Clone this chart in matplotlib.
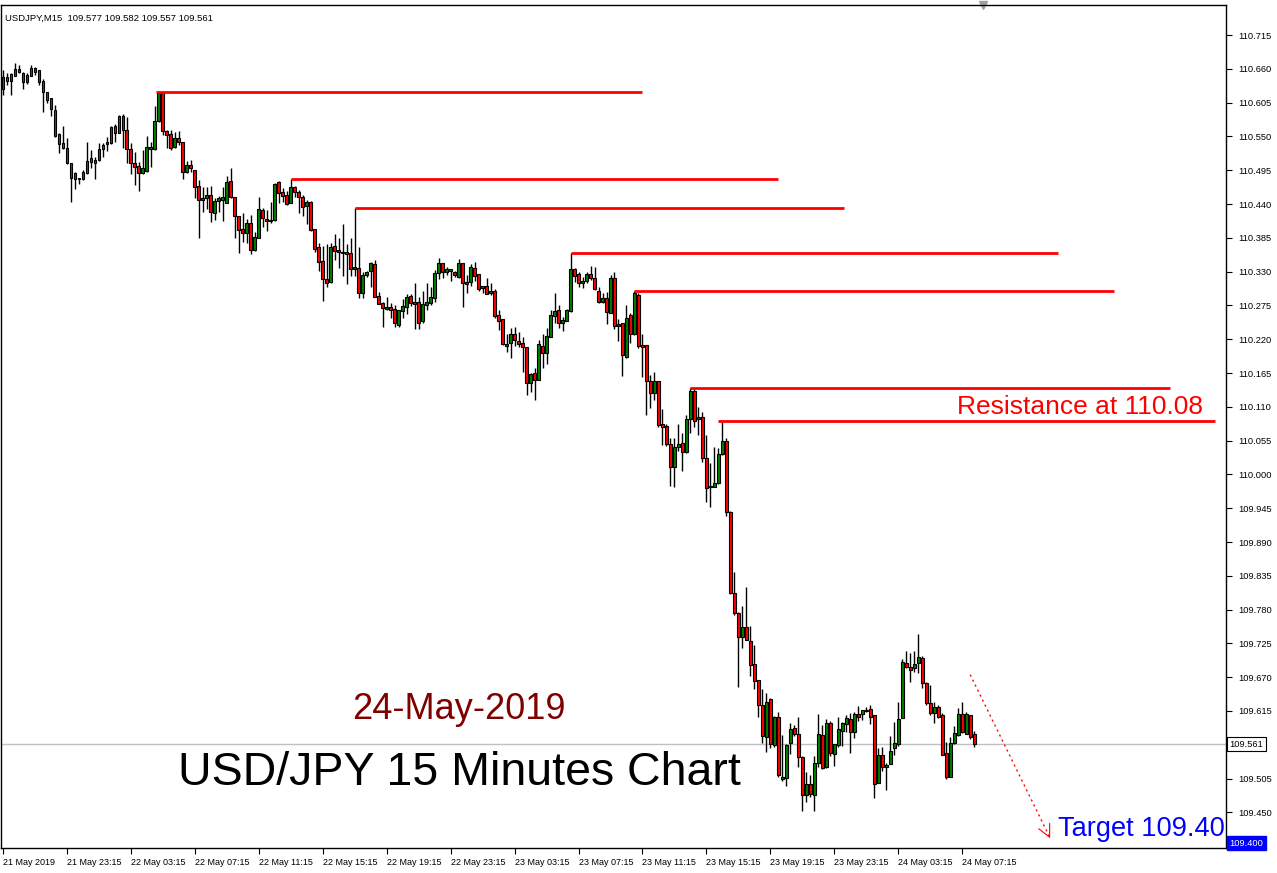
import numpy as np
import matplotlib.pyplot as plt
from matplotlib.transforms import blended_transform_factory

plt.rcParams['font.family'] = ['Liberation Sans', 'DejaVu Sans']

# USDJPY M15, 21 May 19:15 .. 24 May 07:45, one value per candle
opens = [
    110.627, 110.647, 110.640, 110.648, 110.660, 110.653, 110.639, 110.648, 110.661, 110.658,
    110.640, 110.622, 110.613, 110.593, 110.554, 110.539, 110.531, 110.507, 110.481, 110.482,
    110.481, 110.490, 110.515, 110.507, 110.512, 110.530, 110.538, 110.539, 110.567, 110.556,
    110.583, 110.560, 110.530, 110.507, 110.502, 110.490, 110.494, 110.530, 110.530, 110.575,
    110.621, 110.559, 110.554, 110.533, 110.547, 110.541, 110.492, 110.503, 110.495, 110.469,
    110.450, 110.450, 110.455, 110.425, 110.445, 110.447, 110.442, 110.477, 110.451, 110.420,
    110.399, 110.393, 110.409, 110.365, 110.385, 110.430, 110.416, 110.412, 110.414, 110.476,
    110.460, 110.455, 110.442, 110.468, 110.460, 110.451, 110.437, 110.443, 110.399, 110.370,
    110.347, 110.318, 110.313, 110.372, 110.365, 110.362, 110.362, 110.360, 110.334, 110.336,
    110.295, 110.324, 110.331, 110.342, 110.290, 110.279, 110.269, 110.272, 110.269, 110.243,
    110.266, 110.272, 110.290, 110.277, 110.281, 110.250, 110.276, 110.279, 110.287, 110.328,
    110.344, 110.329, 110.331, 110.329, 110.321, 110.344, 110.310, 110.313, 110.336, 110.326,
    110.303, 110.307, 110.295, 110.298, 110.259, 110.253, 110.209, 110.214, 110.228, 110.217,
    110.214, 110.207, 110.149, 110.165, 110.154, 110.209, 110.198, 110.224, 110.258, 110.268,
    110.246, 110.250, 110.266, 110.334, 110.326, 110.311, 110.315, 110.326, 110.320, 110.298,
    110.281, 110.287, 110.263, 110.320, 110.241, 110.246, 110.191, 110.259, 110.228, 110.292,
    110.211, 110.211, 110.152, 110.133, 110.152, 110.082, 110.079, 110.049, 110.012, 110.045,
    110.051, 110.036, 110.090, 110.136, 110.090, 110.093, 110.027, 109.980, 109.980, 109.986,
    110.033, 110.054, 109.939, 109.807, 109.775, 109.735, 109.752, 109.729, 109.691, 109.665,
    109.625, 109.573, 109.635, 109.560, 109.605, 109.505, 109.506, 109.563, 109.587, 109.578,
    109.540, 109.478, 109.496, 109.478, 109.530, 109.576, 109.524, 109.596, 109.545, 109.560,
    109.583, 109.594, 109.602, 109.581, 109.610, 109.610, 109.617, 109.618, 109.609, 109.498,
    109.543, 109.524, 109.529, 109.555, 109.561, 109.604, 109.693, 109.687, 109.685, 109.693,
    109.701, 109.661, 109.628, 109.612, 109.622, 109.609, 109.547, 109.508, 109.563, 109.576,
    109.610, 109.578, 109.609, 109.577,
]
highs = [
    110.658, 110.653, 110.653, 110.669, 110.666, 110.655, 110.653, 110.666, 110.663, 110.658,
    110.643, 110.622, 110.613, 110.601, 110.556, 110.567, 110.547, 110.507, 110.492, 110.483,
    110.495, 110.541, 110.528, 110.517, 110.539, 110.539, 110.549, 110.567, 110.570, 110.585,
    110.587, 110.582, 110.539, 110.525, 110.508, 110.528, 110.551, 110.541, 110.600, 110.622,
    110.622, 110.560, 110.560, 110.557, 110.559, 110.541, 110.510, 110.512, 110.495, 110.479,
    110.468, 110.468, 110.469, 110.450, 110.453, 110.468, 110.486, 110.499, 110.451, 110.420,
    110.425, 110.416, 110.422, 110.394, 110.451, 110.434, 110.430, 110.443, 110.474, 110.477,
    110.466, 110.461, 110.481, 110.469, 110.463, 110.455, 110.447, 110.445, 110.399, 110.377,
    110.372, 110.375, 110.377, 110.391, 110.385, 110.407, 110.375, 110.385, 110.433, 110.370,
    110.329, 110.331, 110.346, 110.349, 110.297, 110.281, 110.289, 110.279, 110.276, 110.268,
    110.285, 110.294, 110.294, 110.311, 110.289, 110.298, 110.311, 110.305, 110.333, 110.352,
    110.344, 110.338, 110.334, 110.331, 110.351, 110.344, 110.324, 110.342, 110.346, 110.326,
    110.307, 110.320, 110.311, 110.302, 110.268, 110.253, 110.228, 110.238, 110.240, 110.232,
    110.224, 110.207, 110.165, 110.173, 110.219, 110.228, 110.238, 110.268, 110.295, 110.276,
    110.256, 110.269, 110.361, 110.336, 110.329, 110.321, 110.329, 110.339, 110.338, 110.305,
    110.295, 110.297, 110.324, 110.329, 110.253, 110.246, 110.276, 110.263, 110.299, 110.295,
    110.228, 110.211, 110.162, 110.167, 110.152, 110.106, 110.082, 110.059, 110.059, 110.082,
    110.067, 110.097, 110.141, 110.141, 110.110, 110.102, 110.064, 110.019, 110.045, 110.043,
    110.086, 110.059, 109.940, 109.841, 109.776, 109.786, 109.817, 109.753, 109.722, 109.666,
    109.651, 109.644, 109.636, 109.607, 109.613, 109.576, 109.561, 109.596, 109.592, 109.605,
    109.542, 109.516, 109.511, 109.542, 109.610, 109.592, 109.602, 109.599, 109.561, 109.605,
    109.597, 109.609, 109.612, 109.613, 109.623, 109.617, 109.622, 109.625, 109.609, 109.555,
    109.556, 109.530, 109.574, 109.597, 109.630, 109.700, 109.713, 109.709, 109.713, 109.740,
    109.705, 109.662, 109.657, 109.630, 109.625, 109.612, 109.565, 109.573, 109.591, 109.620,
    109.630, 109.613, 109.609, 109.582,
]
lows = [
    110.618, 110.634, 110.618, 110.648, 110.653, 110.627, 110.635, 110.648, 110.650, 110.634,
    110.590, 110.604, 110.583, 110.549, 110.523, 110.530, 110.506, 110.443, 110.464, 110.473,
    110.479, 110.489, 110.499, 110.481, 110.510, 110.517, 110.526, 110.538, 110.541, 110.555,
    110.531, 110.507, 110.489, 110.471, 110.461, 110.489, 110.493, 110.500, 110.528, 110.574,
    110.553, 110.531, 110.528, 110.532, 110.536, 110.481, 110.491, 110.492, 110.450, 110.385,
    110.427, 110.432, 110.411, 110.414, 110.427, 110.412, 110.441, 110.450, 110.385, 110.360,
    110.378, 110.377, 110.359, 110.364, 110.384, 110.403, 110.396, 110.409, 110.413, 110.442,
    110.443, 110.439, 110.441, 110.451, 110.425, 110.420, 110.407, 110.396, 110.362, 110.331,
    110.282, 110.305, 110.312, 110.349, 110.336, 110.323, 110.310, 110.323, 110.323, 110.287,
    110.287, 110.321, 110.305, 110.288, 110.277, 110.240, 110.268, 110.255, 110.240, 110.240,
    110.255, 110.261, 110.274, 110.237, 110.237, 110.246, 110.268, 110.276, 110.281, 110.318,
    110.320, 110.324, 110.315, 110.321, 110.320, 110.272, 110.295, 110.307, 110.315, 110.298,
    110.295, 110.293, 110.292, 110.255, 110.235, 110.211, 110.199, 110.189, 110.209, 110.207,
    110.167, 110.129, 110.134, 110.121, 110.153, 110.173, 110.180, 110.223, 110.246, 110.238,
    110.233, 110.249, 110.265, 110.313, 110.305, 110.303, 110.311, 110.316, 110.300, 110.279,
    110.279, 110.245, 110.262, 110.237, 110.217, 110.160, 110.190, 110.214, 110.227, 110.206,
    110.159, 110.097, 110.108, 110.121, 110.077, 110.048, 110.046, 109.981, 109.980, 110.038,
    110.005, 110.035, 110.067, 110.077, 110.064, 110.020, 109.955, 109.947, 109.979, 109.985,
    110.031, 109.932, 109.806, 109.771, 109.654, 109.717, 109.730, 109.672, 109.651, 109.605,
    109.563, 109.548, 109.555, 109.557, 109.508, 109.501, 109.493, 109.545, 109.574, 109.524,
    109.452, 109.467, 109.475, 109.452, 109.524, 109.520, 109.523, 109.542, 109.526, 109.557,
    109.558, 109.581, 109.547, 109.571, 109.599, 109.600, 109.613, 109.594, 109.473, 109.497,
    109.517, 109.487, 109.528, 109.543, 109.558, 109.603, 109.685, 109.662, 109.679, 109.677,
    109.653, 109.625, 109.609, 109.596, 109.604, 109.543, 109.504, 109.507, 109.562, 109.575,
    109.579, 109.577, 109.569, 109.557,
]
closes = [
    110.647, 110.640, 110.652, 110.660, 110.655, 110.639, 110.650, 110.661, 110.655, 110.639,
    110.622, 110.609, 110.595, 110.551, 110.538, 110.531, 110.507, 110.482, 110.490, 110.481,
    110.492, 110.510, 110.508, 110.512, 110.530, 110.536, 110.541, 110.565, 110.556, 110.583,
    110.560, 110.530, 110.507, 110.500, 110.490, 110.499, 110.533, 110.533, 110.575, 110.621,
    110.559, 110.552, 110.531, 110.547, 110.541, 110.492, 110.503, 110.499, 110.468, 110.447,
    110.446, 110.455, 110.427, 110.445, 110.450, 110.451, 110.476, 110.451, 110.420, 110.398,
    110.393, 110.409, 110.365, 110.386, 110.432, 110.417, 110.412, 110.414, 110.473, 110.458,
    110.453, 110.440, 110.468, 110.460, 110.451, 110.435, 110.443, 110.398, 110.367, 110.346,
    110.318, 110.311, 110.370, 110.364, 110.362, 110.360, 110.359, 110.334, 110.338, 110.295,
    110.324, 110.329, 110.344, 110.289, 110.277, 110.271, 110.272, 110.268, 110.246, 110.268,
    110.274, 110.289, 110.279, 110.281, 110.246, 110.277, 110.281, 110.289, 110.328, 110.344,
    110.329, 110.334, 110.334, 110.324, 110.344, 110.311, 110.313, 110.338, 110.323, 110.302,
    110.307, 110.294, 110.298, 110.258, 110.250, 110.212, 110.212, 110.228, 110.219, 110.212,
    110.207, 110.149, 110.163, 110.154, 110.212, 110.198, 110.225, 110.259, 110.266, 110.246,
    110.251, 110.268, 110.334, 110.323, 110.311, 110.315, 110.326, 110.320, 110.302, 110.281,
    110.287, 110.264, 110.320, 110.241, 110.245, 110.194, 110.255, 110.228, 110.295, 110.209,
    110.207, 110.152, 110.133, 110.152, 110.080, 110.077, 110.049, 110.012, 110.045, 110.049,
    110.036, 110.090, 110.136, 110.087, 110.093, 110.027, 109.978, 109.981, 109.986, 110.033,
    110.054, 109.939, 109.807, 109.775, 109.735, 109.752, 109.731, 109.690, 109.664, 109.625,
    109.574, 109.630, 109.561, 109.605, 109.510, 109.508, 109.560, 109.586, 109.578, 109.540,
    109.478, 109.496, 109.480, 109.530, 109.578, 109.522, 109.596, 109.547, 109.561, 109.586,
    109.596, 109.604, 109.581, 109.610, 109.605, 109.616, 109.615, 109.605, 109.496, 109.543,
    109.524, 109.527, 109.550, 109.563, 109.602, 109.695, 109.687, 109.682, 109.692, 109.703,
    109.661, 109.628, 109.612, 109.622, 109.605, 109.544, 109.508, 109.563, 109.579, 109.610,
    109.580, 109.610, 109.573, 109.561,
]

# resistance lines: price, first and last candle index
res_levels = [110.622, 110.480, 110.434, 110.360, 110.298, 110.141, 110.087]
res_start = [38.3, 72, 88, 142, 158, 172, 179]
res_end = [160, 194, 210.3, 264, 278, 292, 303.3]

xtick_pos = [0, 16, 32, 48, 64, 80, 96, 112, 128, 144, 160, 176, 192, 208, 224, 240]
xtick_labels = ["21 May 2019", "21 May 23:15", "22 May 03:15", "22 May 07:15",
                "22 May 11:15", "22 May 15:15", "22 May 19:15", "22 May 23:15",
                "23 May 03:15", "23 May 07:15", "23 May 11:15", "23 May 15:15",
                "23 May 19:15", "23 May 23:15", "24 May 03:15", "24 May 07:15"]
ytick_pos = [110.715, 110.660, 110.605, 110.550, 110.495, 110.440, 110.385, 110.330,
             110.275, 110.220, 110.165, 110.110, 110.055, 110.000, 109.945, 109.890,
             109.835, 109.780, 109.725, 109.670, 109.615, 109.505, 109.450]

bid = 109.561
arrow_from = (242, 109.674)
arrow_to = (262, 109.408)

o = np.array(opens)
h = np.array(highs)
l = np.array(lows)
c = np.array(closes)
idx = np.arange(len(o))

fig = plt.figure(figsize=(12.77, 8.73), dpi=100)
ax = fig.add_axes([1 / 1277, 25 / 873, 1225 / 1277, 843 / 873])

# wicks then bodies
ax.vlines(idx, l, h, color="black", lw=1, zorder=2)
up = c >= o
body_bot = np.minimum(o, c)
body_h = np.maximum(np.abs(c - o), 0.0006)
ax.bar(idx[up], body_h[up], bottom=body_bot[up], width=0.7, color="#008000",
       edgecolor="black", lw=0.8, zorder=3)
ax.bar(idx[~up], body_h[~up], bottom=body_bot[~up], width=0.7, color="#ff0000",
       edgecolor="black", lw=0.8, zorder=3)

# bid line
ax.axhline(bid, color="#c0c0c0", lw=1, zorder=1)

for lev, x0, x1 in zip(res_levels, res_start, res_end):
    ax.plot([x0, x1], [lev, lev], color="#ff0000", lw=2, solid_capstyle="butt", zorder=4)

# dotted arrow to target
ax.plot([arrow_from[0], arrow_to[0]], [arrow_from[1], arrow_to[1]],
        color="#ff0000", lw=1, ls=(0, (1.5, 2.5)), zorder=4)
ax.annotate("", xy=arrow_to,
            xytext=(arrow_to[0] - 0.5, arrow_to[1] + 0.0066),
            arrowprops=dict(arrowstyle="->", color="#ff0000", lw=0.8, mutation_scale=22))

ax.text(114, 109.617, "24-May-2019", color="#800000", fontsize=26, ha="center", va="center")
ax.text(114.3, 109.514, "USD/JPY 15 Minutes Chart", color="black", fontsize=33.5,
        ha="center", va="center")
ax.text(300.3, 110.110, "Resistance at 110.08", color="#ff0000", fontsize=19,
        ha="right", va="center")
ax.text(264, 109.423, "Target 109.40", color="#0000ff", fontsize=19.6, ha="left", va="center")

ax.text(0.003, 0.99, "USDJPY,M15  109.577 109.582 109.557 109.561", transform=ax.transAxes,
        fontsize=6.8, ha="left", va="top")

ax.set_xlim(-0.5, 306)
ax.set_ylim(109.392, 110.764)

ax.set_xticks(xtick_pos)
ax.set_xticklabels(xtick_labels, ha="left", fontsize=6.5)
ax.yaxis.tick_right()
ax.set_yticks(ytick_pos)
ax.set_yticklabels(["%.3f" % v for v in ytick_pos], fontsize=6.7)
ax.tick_params(axis="both", length=4, width=0.8, direction="out", pad=3)
ax.tick_params(axis="y", pad=5)
for sp in ax.spines.values():
    sp.set_linewidth(1)

# price labels on the right scale
tr = blended_transform_factory(ax.transAxes, ax.transData)
ax.text(1.003, bid, "%.3f" % bid, transform=tr, fontsize=6.7, ha="left", va="center",
        color="black", bbox=dict(boxstyle="square,pad=0.25", fc="white", ec="black", lw=0.8),
        clip_on=False)
ax.text(1.003, 109.400, "109.400", transform=tr, fontsize=6.7, ha="left", va="center",
        color="white", bbox=dict(boxstyle="square,pad=0.25", fc="#0000ff", ec="#0000ff"),
        clip_on=False)

# chart shift marker
ax.plot([245.25], [1.0], marker="v", color="#a0a0a0", ms=6,
        transform=blended_transform_factory(ax.transData, ax.transAxes), clip_on=False)

fig.savefig("out.png", dpi=100)
